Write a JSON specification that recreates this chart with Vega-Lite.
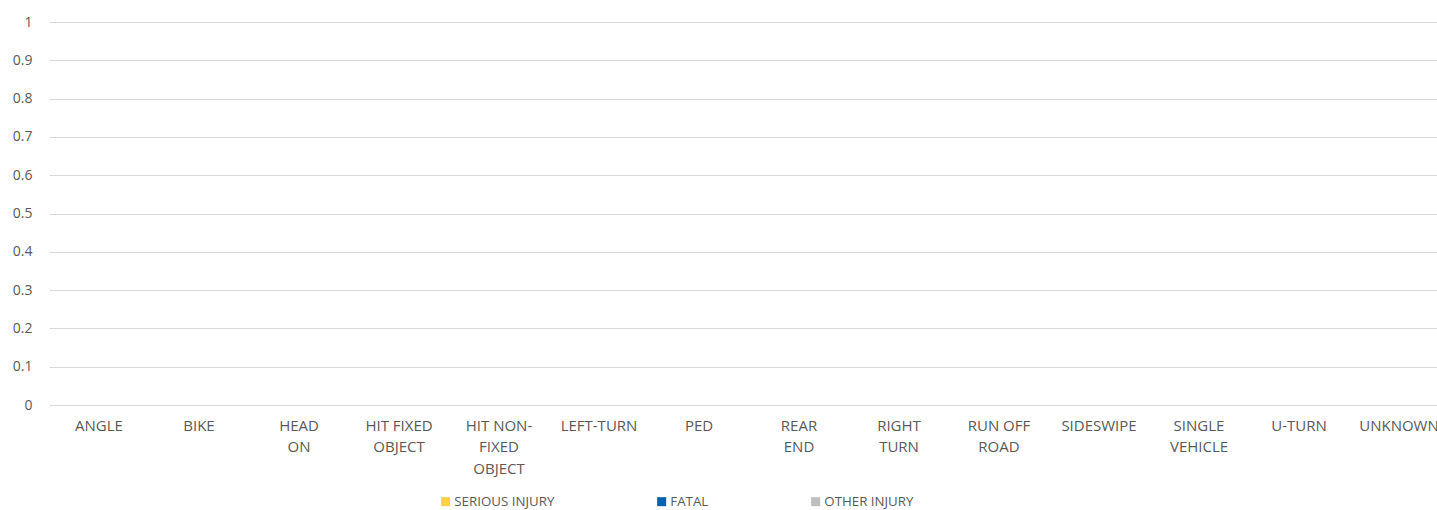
{
  "$schema": "https://vega.github.io/schema/vega-lite/v6.json",
  "width": 1388,
  "height": 383,
  "autosize": {"type": "none"},
  "padding": {"left": 49, "top": 22, "right": 0, "bottom": 105},
  "background": "white",
  "title": {
    "text": "CRASH TYPE",
    "font": "Open Sans",
    "fontSize": 18,
    "fontWeight": "bold",
    "color": "#000000",
    "anchor": "middle",
    "frame": "group",
    "baseline": "alphabetic",
    "offset": 19,
    "dx": -14
  },
  "config": {
    "view": {"stroke": null},
    "font": "Open Sans"
  },
  "data": {
    "values": [
      {"crash_type": "ANGLE", "severity": "SERIOUS INJURY", "count": 0},
      {"crash_type": "ANGLE", "severity": "FATAL", "count": 0},
      {"crash_type": "ANGLE", "severity": "OTHER INJURY", "count": 0},
      {"crash_type": "BIKE", "severity": "SERIOUS INJURY", "count": 0},
      {"crash_type": "BIKE", "severity": "FATAL", "count": 0},
      {"crash_type": "BIKE", "severity": "OTHER INJURY", "count": 0},
      {"crash_type": "HEAD ON", "severity": "SERIOUS INJURY", "count": 0},
      {"crash_type": "HEAD ON", "severity": "FATAL", "count": 0},
      {"crash_type": "HEAD ON", "severity": "OTHER INJURY", "count": 0},
      {"crash_type": "HIT FIXED OBJECT", "severity": "SERIOUS INJURY", "count": 0},
      {"crash_type": "HIT FIXED OBJECT", "severity": "FATAL", "count": 0},
      {"crash_type": "HIT FIXED OBJECT", "severity": "OTHER INJURY", "count": 0},
      {"crash_type": "HIT NON-FIXED OBJECT", "severity": "SERIOUS INJURY", "count": 0},
      {"crash_type": "HIT NON-FIXED OBJECT", "severity": "FATAL", "count": 0},
      {"crash_type": "HIT NON-FIXED OBJECT", "severity": "OTHER INJURY", "count": 0},
      {"crash_type": "LEFT-TURN", "severity": "SERIOUS INJURY", "count": 0},
      {"crash_type": "LEFT-TURN", "severity": "FATAL", "count": 0},
      {"crash_type": "LEFT-TURN", "severity": "OTHER INJURY", "count": 0},
      {"crash_type": "PED", "severity": "SERIOUS INJURY", "count": 0},
      {"crash_type": "PED", "severity": "FATAL", "count": 0},
      {"crash_type": "PED", "severity": "OTHER INJURY", "count": 0},
      {"crash_type": "REAR END", "severity": "SERIOUS INJURY", "count": 0},
      {"crash_type": "REAR END", "severity": "FATAL", "count": 0},
      {"crash_type": "REAR END", "severity": "OTHER INJURY", "count": 0},
      {"crash_type": "RIGHT TURN", "severity": "SERIOUS INJURY", "count": 0},
      {"crash_type": "RIGHT TURN", "severity": "FATAL", "count": 0},
      {"crash_type": "RIGHT TURN", "severity": "OTHER INJURY", "count": 0},
      {"crash_type": "RUN OFF ROAD", "severity": "SERIOUS INJURY", "count": 0},
      {"crash_type": "RUN OFF ROAD", "severity": "FATAL", "count": 0},
      {"crash_type": "RUN OFF ROAD", "severity": "OTHER INJURY", "count": 0},
      {"crash_type": "SIDESWIPE", "severity": "SERIOUS INJURY", "count": 0},
      {"crash_type": "SIDESWIPE", "severity": "FATAL", "count": 0},
      {"crash_type": "SIDESWIPE", "severity": "OTHER INJURY", "count": 0},
      {"crash_type": "SINGLE VEHICLE", "severity": "SERIOUS INJURY", "count": 0},
      {"crash_type": "SINGLE VEHICLE", "severity": "FATAL", "count": 0},
      {"crash_type": "SINGLE VEHICLE", "severity": "OTHER INJURY", "count": 0},
      {"crash_type": "U-TURN", "severity": "SERIOUS INJURY", "count": 0},
      {"crash_type": "U-TURN", "severity": "FATAL", "count": 0},
      {"crash_type": "U-TURN", "severity": "OTHER INJURY", "count": 0},
      {"crash_type": "UNKNOWN", "severity": "SERIOUS INJURY", "count": 0},
      {"crash_type": "UNKNOWN", "severity": "FATAL", "count": 0},
      {"crash_type": "UNKNOWN", "severity": "OTHER INJURY", "count": 0}
    ]
  },
  "mark": {"type": "bar"},
  "encoding": {
    "x": {
      "field": "crash_type",
      "type": "nominal",
      "sort": null,
      "scale": {"range": [0, 1400], "paddingInner": 0.5, "paddingOuter": 0.25},
      "axis": {
        "title": null,
        "labelAngle": 0,
        "domain": false,
        "ticks": false,
        "labelFont": "Open Sans",
        "labelFontSize": 15,
        "labelColor": "#595959",
        "labelPadding": 13,
        "labelBaseline": "top",
        "labelLineHeight": 21.5,
        "labelLimit": 0,
        "labelExpr": "datum.value == 'HIT NON-FIXED OBJECT' ? ['HIT NON-', 'FIXED', 'OBJECT'] : datum.value == 'HIT FIXED OBJECT' ? ['HIT FIXED', 'OBJECT'] : datum.value == 'RUN OFF ROAD' ? ['RUN OFF', 'ROAD'] : indexof(datum.value, ' ') > 0 ? split(datum.value, ' ') : datum.value"
      }
    },
    "y": {
      "field": "count",
      "type": "quantitative",
      "stack": "zero",
      "scale": {"domain": [0, 1], "nice": false},
      "axis": {
        "title": null,
        "values": [0, 0.1, 0.2, 0.3, 0.4, 0.5, 0.6, 0.7, 0.8, 0.9, 1],
        "format": ".1~f",
        "domain": false,
        "ticks": false,
        "grid": true,
        "gridColor": "#D9D9D9",
        "gridWidth": 1,
        "labelFont": "Open Sans",
        "labelFontSize": 14,
        "labelColor": "#595959",
        "labelPadding": 17
      }
    },
    "color": {
      "field": "severity",
      "type": "nominal",
      "scale": {
        "domain": ["SERIOUS INJURY", "FATAL", "OTHER INJURY"],
        "range": ["#FFCF48", "#0062B0", "#BFBFBF"]
      },
      "legend": {
        "title": null,
        "orient": "none",
        "direction": "horizontal",
        "legendX": 390,
        "legendY": 473,
        "symbolType": "square",
        "symbolSize": 81,
        "symbolStrokeWidth": 0,
        "labelFont": "Open Sans",
        "labelFontSize": 13.3,
        "labelColor": "#595959",
        "labelOffset": 2,
        "columnPadding": 100
      }
    }
  }
}
